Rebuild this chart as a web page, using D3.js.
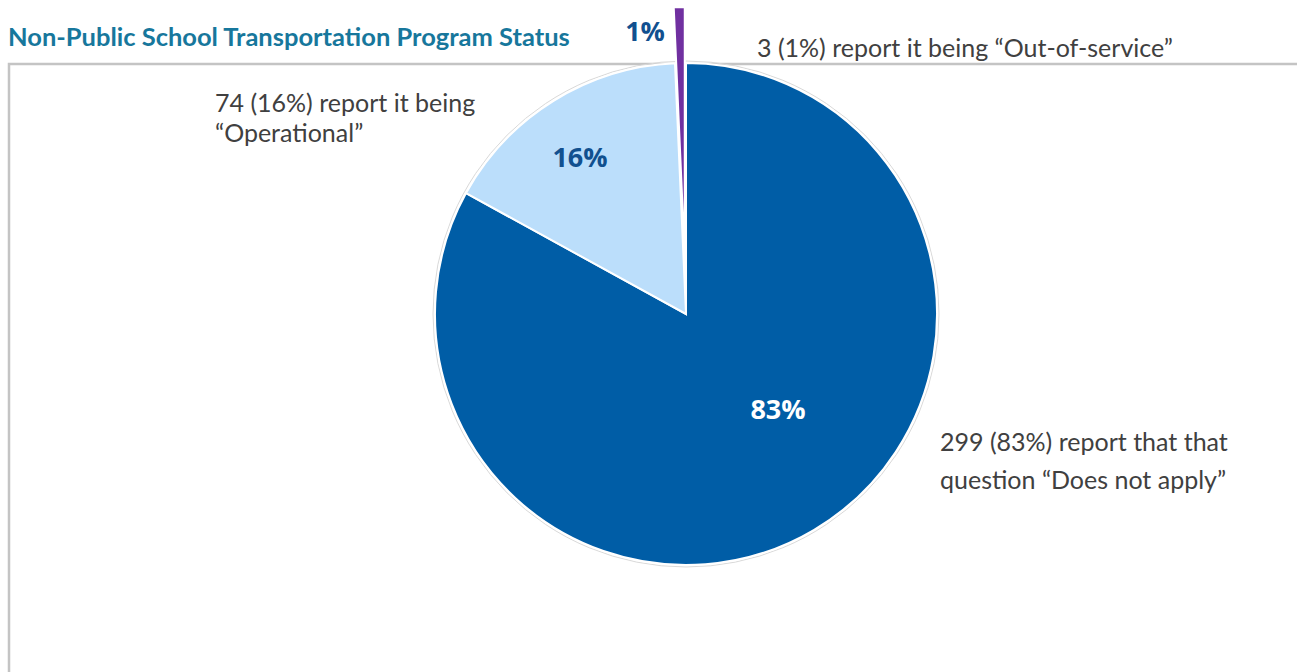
<!DOCTYPE html>
<html>
<head>
<meta charset="utf-8">
<script src="https://cdn.jsdelivr.net/npm/d3@7"></script>
<style>
  body { margin: 0; background: #fff; }
  svg { display: block; }
  .lbl { font-family: Lato, sans-serif; font-size: 25px; fill: #404040; }
  .pct { font-family: "Open Sans", sans-serif; font-weight: 700; font-size: 27px; }
</style>
</head>
<body>
<div id="chart"></div>
<script>
// data
var categories = ["Does not apply", "Operational", "Out-of-service"];
var counts = [299, 74, 3];
// slice shares as drawn in the picture (percent of the circle)
var shares = [83, 16.3, 0.7];
var pctLabels = ["83%", "16%", "1%"];
var calloutLines = [
  ["299 (83%) report that that", "question \u201cDoes not apply\u201d"],
  ["74 (16%) report it being", "\u201cOperational\u201d"],
  ["3 (1%) report it being \u201cOut-of-service\u201d"]
];
var sliceColors = ["#005DA6", "#BBDEFB", "#7030A0"];
var pctColors = ["#ffffff", "#11508F", "#11508F"];

var width = 1297, height = 672;
var cx = 686, cy = 314, radius = 251;
var explode = [0, 0, 56];

var svg = d3.select("#chart").append("svg")
    .attr("width", width)
    .attr("height", height);

// frame
svg.append("path")
    .attr("d", "M9," + height + " L9,64 L" + width + ",64")
    .attr("fill", "none")
    .attr("stroke", "#c4c4c4")
    .attr("stroke-width", 2.5);

// title
svg.append("text")
    .attr("x", 8)
    .attr("y", 46)
    .style("font-family", "Lato, sans-serif")
    .style("font-weight", 700)
    .style("font-size", "25.5px")
    .style("fill", "#17779C")
    .text("Non-Public School Transportation Program Status");

var pie = d3.pie().sort(null).value(function(d) { return d; });
var arcs = pie(shares);

var arc = d3.arc().innerRadius(0).outerRadius(radius);

var g = svg.append("g").attr("transform", "translate(" + cx + "," + cy + ")");

// faint outline ring
g.append("circle")
    .attr("r", radius + 2)
    .attr("fill", "none")
    .attr("stroke", "#d9d9d9")
    .attr("stroke-width", 1);

function offset(d, i) {
  var a = (d.startAngle + d.endAngle) / 2;
  return [Math.sin(a) * explode[i], -Math.cos(a) * explode[i]];
}

g.selectAll(".slice")
    .data(arcs)
  .enter().append("path")
    .attr("class", "slice")
    .attr("transform", function(d, i) { var o = offset(d, i); return "translate(" + o[0] + "," + o[1] + ")"; })
    .attr("d", arc)
    .attr("fill", function(d, i) { return sliceColors[i]; })
    .attr("stroke", "#ffffff")
    .attr("stroke-width", 2);

// percent labels (positions relative to pie centre)
var pctPos = [[92, 94], [-106, -158], [-41, -284]];
g.selectAll(".pct")
    .data(arcs)
  .enter().append("text")
    .attr("class", "pct")
    .attr("x", function(d, i) { return pctPos[i][0]; })
    .attr("y", function(d, i) { return pctPos[i][1]; })
    .attr("text-anchor", "middle")
    .attr("dominant-baseline", "central")
    .style("fill", function(d, i) { return pctColors[i]; })
    .text(function(d, i) { return pctLabels[i]; });

// callout labels
var calloutPos = [[940, 451], [215, 112], [757, 57]];
var lineH = [38, 30, 30];
calloutLines.forEach(function(lines, i) {
  var t = svg.append("text")
      .attr("class", "lbl")
      .attr("x", calloutPos[i][0])
      .attr("y", calloutPos[i][1]);
  lines.forEach(function(s, j) {
    t.append("tspan")
      .attr("x", calloutPos[i][0])
      .attr("dy", j === 0 ? 0 : lineH[i])
      .text(s);
  });
});
</script>
</body>
</html>
